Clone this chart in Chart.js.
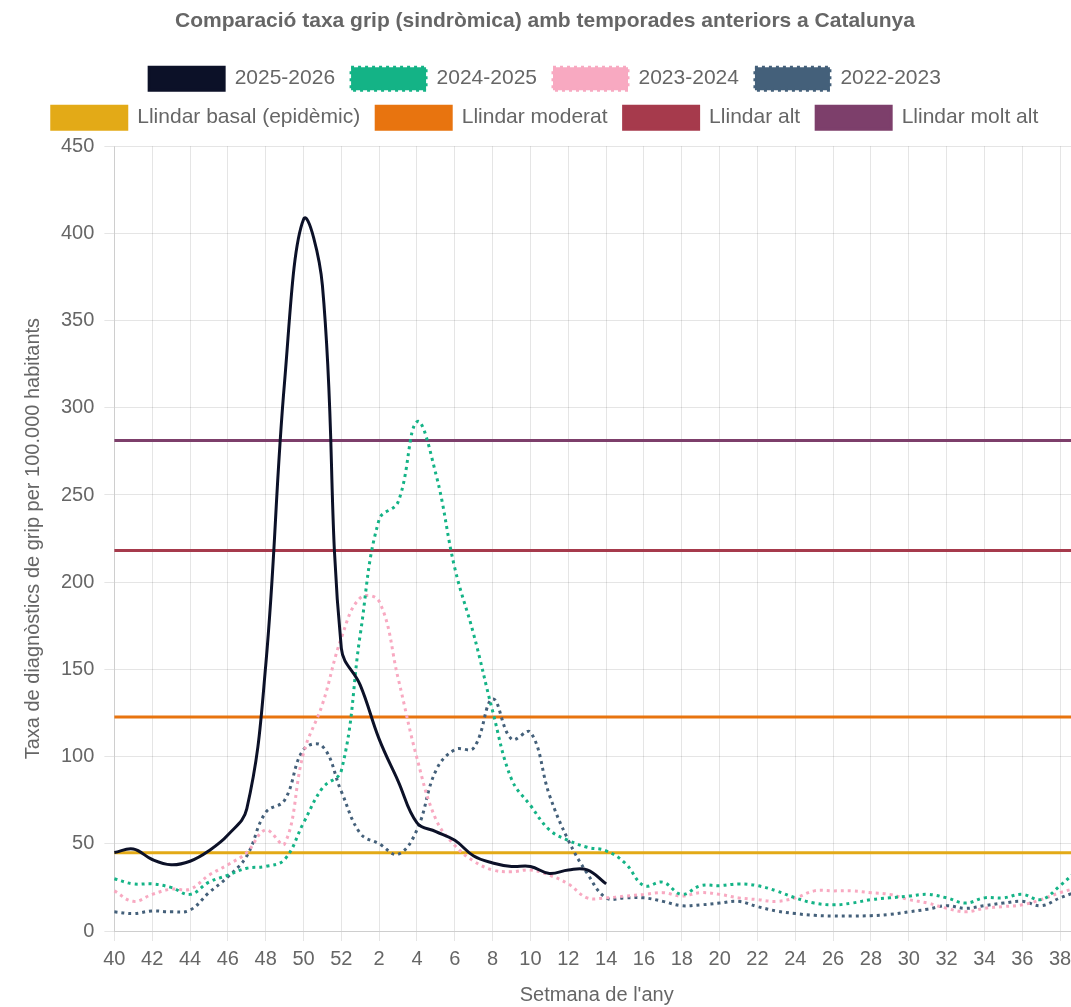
<!DOCTYPE html>
<html>
<head>
<meta charset="utf-8">
<script src="https://cdn.jsdelivr.net/npm/chart.js@4.4.0/dist/chart.umd.min.js"></script>
<style>
  body { margin: 0; overflow: hidden; background: #fff; }
</style>
</head>
<body>
<canvas id="myChart" width="1090" height="1007"></canvas>
<script>
// setmanes de la temporada (40 -> 39)
var weeks = [40, 41, 42, 43, 44, 45, 46, 47, 48, 49, 50, 51, 52,
  1, 2, 3, 4, 5, 6, 7, 8, 9, 10, 11, 12, 13, 14, 15, 16, 17, 18, 19, 20,
  21, 22, 23, 24, 25, 26, 27, 28, 29, 30, 31, 32, 33, 34, 35, 36, 37, 38, 39];

var taxa2526 = [45, 47, 41, 38, 40, 46, 55, 70, 152, 315, 408, 370, 162,
  141, 110, 86, 62, 57, 52, 43, 39, 37, 37, 33, 35, 35, 27];

var taxa2425 = [30, 27, 27, 25, 21, 28, 32, 36, 37, 41, 62, 82, 92,
  170, 236, 246, 292, 262, 208, 170, 126, 87, 72, 58, 52, 48, 46, 39, 26, 28, 21, 26, 26,
  27, 26, 23, 19, 16, 15, 16, 18, 19, 20, 21, 19, 16, 19, 19, 21, 18, 26, 36];

var taxa2324 = [23, 17, 21, 24, 24, 32, 38, 45, 58, 50, 102, 130, 168,
  191, 189, 145, 99, 64, 49, 40, 35, 34, 35, 32, 27, 19, 19, 20, 21, 22, 20, 22, 21,
  19, 18, 17, 19, 23, 23, 23, 22, 21, 18, 16, 13, 11, 13, 14, 15, 18, 22, 25];

var taxa2223 = [11, 10, 11.5, 11, 12, 22, 31, 43, 68, 75, 104, 106, 80,
  56, 50, 44, 58, 92, 104, 105, 133, 110, 114, 78, 52, 33, 19, 19, 19, 17, 14.5, 15, 16,
  17, 14, 11.5, 10, 9, 8.6, 8.6, 8.8, 9.5, 11, 12.5, 14.5, 13, 14.5, 16, 17, 14.5, 19, 23];

// llindars epidèmics
var llindarBasal = 44.9;
var llindarModerat = 122.7;
var llindarAlt = 218.2;
var llindarMoltAlt = 281.2;

var yTicks = [0, 50, 100, 150, 200, 250, 300, 350, 400, 450];

function serie(label, data, color, dash) {
  return {
    label: label,
    data: data,
    borderColor: color,
    backgroundColor: color,
    borderWidth: 3,
    borderDash: dash,
    pointRadius: 0,
    pointHoverRadius: 0,
    tension: 0.4,
    fill: false
  };
}

function llindar(label, value, color) {
  return serie(label, weeks.map(function () { return value; }), color, []);
}

// una mica d'espai entre la llegenda i el gràfic
var legendGap = {
  id: 'legendGap',
  beforeInit: function (chart) {
    var fit = chart.legend.fit;
    chart.legend.fit = function () {
      fit.bind(chart.legend)();
      this.height += 7;
    };
  }
};

Chart.defaults.font.family = "'Liberation Sans', Arial, sans-serif";
Chart.defaults.color = '#666';

var ctx = document.getElementById('myChart').getContext('2d');
var myChart = new Chart(ctx, {
  type: 'line',
  data: {
    labels: weeks,
    datasets: [
      serie('2025-2026', taxa2526, '#0c1128', []),
      serie('2024-2025', taxa2425, '#14b386', [3, 4]),
      serie('2023-2024', taxa2324, '#f8a9c1', [3, 4]),
      serie('2022-2023', taxa2223, '#44607a', [3, 4]),
      llindar('Llindar basal (epidèmic)', llindarBasal, '#e3aa17'),
      llindar('Llindar moderat', llindarModerat, '#e8740f'),
      llindar('Llindar alt', llindarAlt, '#a63a4c'),
      llindar('Llindar molt alt', llindarMoltAlt, '#7d3f6b')
    ]
  },
  plugins: [legendGap],
  options: {
    responsive: false,
    animation: false,
    layout: { padding: { left: 11, right: 11 } },
    plugins: {
      title: {
        display: true,
        text: 'Comparació taxa grip (sindròmica) amb temporades anteriors a Catalunya',
        color: '#666',
        font: { size: 21, weight: 'bold' },
        padding: { top: 9, bottom: 17 }
      },
      legend: {
        labels: {
          boxWidth: 75,
          boxHeight: 23,
          padding: 16,
          font: { size: 21 }
        }
      },
      tooltip: { enabled: false }
    },
    scales: {
      x: {
        ticks: {
          font: { size: 20 },
          maxRotation: 0,
          autoSkip: true,
          maxTicksLimit: 26,
          padding: 6
        },
        grid: { tickLength: 10 },
        title: {
          display: true,
          text: "Setmana de l'any",
          font: { size: 20 },
          padding: { top: 6, bottom: 0 }
        }
      },
      y: {
        min: yTicks[0],
        max: yTicks[yTicks.length - 1],
        ticks: {
          stepSize: yTicks[1] - yTicks[0],
          font: { size: 20 },
          padding: 10
        },
        grid: { tickLength: 10 },
        title: {
          display: true,
          text: 'Taxa de diagnòstics de grip per 100.000 habitants',
          font: { size: 20 },
          padding: { top: 10, bottom: 6 }
        }
      }
    }
  }
});
</script>
</body>
</html>
